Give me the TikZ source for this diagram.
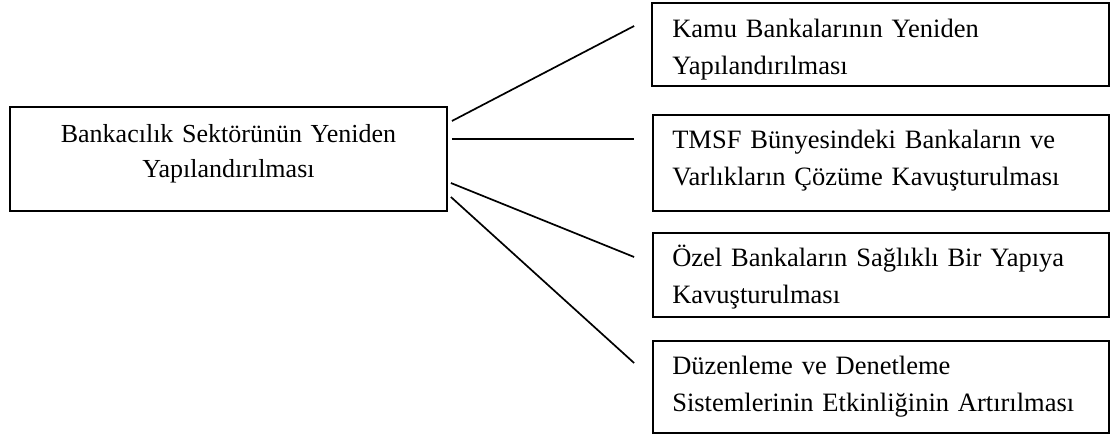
\documentclass[tikz,border=0pt]{standalone}
\usepackage{fontspec}
\setmainfont{Liberation Serif}

\tikzset{
  kutu/.style={draw, line width=1.8pt, rectangle, inner sep=0pt},
  yazi/.style={inner sep=0pt, text width=440pt, align=left,
    font=\fontsize{26.5pt}{37pt}\selectfont},
  dal/.style={line width=1.7pt}
}

\begin{document}
\begin{tikzpicture}[x=1pt,y=-1pt]
			\useasboundingbox (0,0) rectangle (1111,438);
			
			% kutular
			\node[kutu, minimum width=437pt, minimum height=104pt] (ana) at (228.5,159) {};
			\node[kutu, minimum width=457pt, minimum height=83pt] (k1) at (880.5,44.5) {};
			\node[kutu, minimum width=456pt, minimum height=96pt] (k2) at (881,163) {};
			\node[kutu, minimum width=456pt, minimum height=84pt] (k3) at (881,275) {};
			\node[kutu, minimum width=456pt, minimum height=92pt] (k4) at (881,387) {};
			
			% yazilar
			\node[yazi, text width=437pt, align=center, anchor=base,
			  font=\fontsize{26pt}{35pt}\selectfont] (y0) at ([yshift=-36pt]ana.north)
			  {Bankacılık Sektörünün Yeniden\\Yapılandırılması};
			\node[yazi, anchor=base west] (y1) at ([xshift=21pt,yshift=-35pt]k1.north west)
			  {Kamu Bankalarının Yeniden\\Yapılandırılması};
			\node[yazi, anchor=base west] (y2) at ([xshift=20pt,yshift=-34pt]k2.north west)
			  {TMSF Bünyesindeki Bankaların ve\\Varlıkların Çözüme Kavuşturulması};
			\node[yazi, anchor=base west] (y3) at ([xshift=20pt,yshift=-34pt]k3.north west)
			  {Özel Bankaların Sağlıklı Bir Yapıya\\Kavuşturulması};
			\node[yazi, anchor=base west] (y4) at ([xshift=20pt,yshift=-34pt]k4.north west)
			  {Düzenleme ve Denetleme\\Sistemlerinin Etkinliğinin Artırılması};
			
			% dallar
			\draw[dal] ([xshift=4pt,yshift=38pt]ana.east) -- ([xshift=-17pt,yshift=18.5pt]k1.west);
			\draw[dal] ([xshift=4pt,yshift=20pt]ana.east) -- ([xshift=-18pt,yshift=24pt]k2.west);
			\draw[dal] ([xshift=3pt,yshift=-24pt]ana.east) -- ([xshift=-18pt,yshift=18pt]k3.west);
			\draw[dal] ([xshift=3pt,yshift=-38pt]ana.east) -- ([xshift=-18pt,yshift=24pt]k4.west);
\end{tikzpicture}
\end{document}
